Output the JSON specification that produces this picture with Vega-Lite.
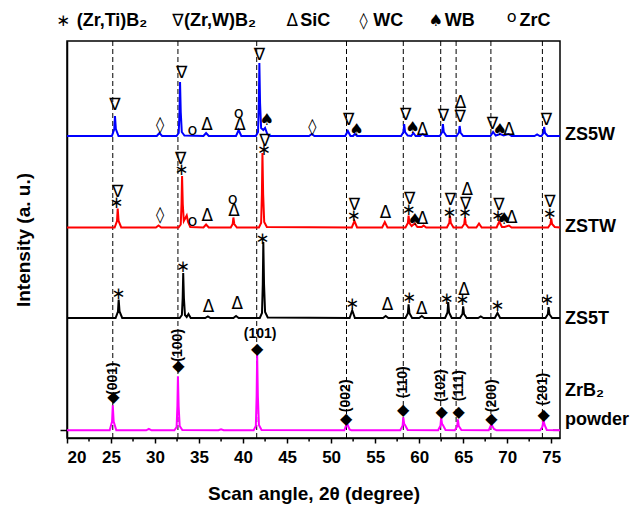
{
"$schema":"https://vega.github.io/schema/vega-lite/v6.json",
"autosize":{"type":"none"},
"padding":{"left":67,"top":41,"right":72,"bottom":70},
"width":493,"height":397,
"config":{"view":{"stroke":"black","strokeWidth":1.5},
"axis":{"domainColor":"black","domainWidth":1.5,"tickColor":"black","tickWidth":1.5,"grid":false,"labelFont":"Liberation Sans","labelFontWeight":"bold","labelFontSize":17,"labelColor":"black","titleFont":"Liberation Sans","titleFontWeight":"bold","titleFontSize":19,"titleColor":"black"},
"text":{"font":"Liberation Sans","color":"black"}},
"datasets":{
"lines":[
{"s":"ZS5W","x":20,"y":302},{"s":"ZS5W","x":25.1,"y":302},{"s":"ZS5W","x":25.37,"y":309},{"s":"ZS5W","x":25.45,"y":322},{"s":"ZS5W","x":25.55,"y":309},{"s":"ZS5W","x":25.85,"y":302},
{"s":"ZS5W","x":30.2,"y":302},{"s":"ZS5W","x":30.5,"y":305},{"s":"ZS5W","x":30.8,"y":302},
{"s":"ZS5W","x":32.44,"y":302},{"s":"ZS5W","x":32.69,"y":305},{"s":"ZS5W","x":32.78,"y":326},{"s":"ZS5W","x":32.84,"y":356},{"s":"ZS5W","x":32.92,"y":326},{"s":"ZS5W","x":33.04,"y":306},{"s":"ZS5W","x":33.34,"y":302.5},
{"s":"ZS5W","x":35.5,"y":302},{"s":"ZS5W","x":35.8,"y":305},{"s":"ZS5W","x":36.1,"y":302},
{"s":"ZS5W","x":39.2,"y":302},{"s":"ZS5W","x":39.5,"y":308},{"s":"ZS5W","x":39.8,"y":302},
{"s":"ZS5W","x":41.45,"y":302},{"s":"ZS5W","x":41.7,"y":306},{"s":"ZS5W","x":41.79,"y":335},{"s":"ZS5W","x":41.85,"y":375},{"s":"ZS5W","x":41.93,"y":335},{"s":"ZS5W","x":42.05,"y":310},{"s":"ZS5W","x":42.3,"y":308},{"s":"ZS5W","x":42.5,"y":310},{"s":"ZS5W","x":42.75,"y":304},{"s":"ZS5W","x":43.1,"y":302},
{"s":"ZS5W","x":47.5,"y":302},{"s":"ZS5W","x":47.8,"y":304},{"s":"ZS5W","x":48.1,"y":302},
{"s":"ZS5W","x":51.6,"y":302},{"s":"ZS5W","x":51.9,"y":307},{"s":"ZS5W","x":52.2,"y":302},{"s":"ZS5W","x":52.5,"y":302},{"s":"ZS5W","x":52.7,"y":304},{"s":"ZS5W","x":52.95,"y":302},
{"s":"ZS5W","x":57.95,"y":302},{"s":"ZS5W","x":58.22,"y":306},{"s":"ZS5W","x":58.3,"y":314},{"s":"ZS5W","x":58.4,"y":306},{"s":"ZS5W","x":58.7,"y":302.5},{"s":"ZS5W","x":59.1,"y":302},{"s":"ZS5W","x":59.35,"y":305},{"s":"ZS5W","x":59.6,"y":302},{"s":"ZS5W","x":60.1,"y":302},{"s":"ZS5W","x":60.4,"y":304},{"s":"ZS5W","x":60.7,"y":302},
{"s":"ZS5W","x":62.35,"y":302},{"s":"ZS5W","x":62.62,"y":306},{"s":"ZS5W","x":62.7,"y":314},{"s":"ZS5W","x":62.8,"y":306},{"s":"ZS5W","x":63.1,"y":302},
{"s":"ZS5W","x":64.25,"y":302},{"s":"ZS5W","x":64.52,"y":305.5},{"s":"ZS5W","x":64.6,"y":312},{"s":"ZS5W","x":64.7,"y":305.5},{"s":"ZS5W","x":65.0,"y":302},
{"s":"ZS5W","x":68.1,"y":302},{"s":"ZS5W","x":68.4,"y":306},{"s":"ZS5W","x":68.7,"y":302.5},{"s":"ZS5W","x":69.2,"y":304},{"s":"ZS5W","x":69.6,"y":302.5},{"s":"ZS5W","x":70.15,"y":304},{"s":"ZS5W","x":70.5,"y":302},
{"s":"ZS5W","x":73.1,"y":302},{"s":"ZS5W","x":73.4,"y":303.5},{"s":"ZS5W","x":73.7,"y":302},
{"s":"ZS5W","x":73.9,"y":302},{"s":"ZS5W","x":74.12,"y":305},{"s":"ZS5W","x":74.2,"y":311},{"s":"ZS5W","x":74.3,"y":305},{"s":"ZS5W","x":74.6,"y":302},{"s":"ZS5W","x":76,"y":302},

{"s":"ZSTW","x":20,"y":210.5},{"s":"ZSTW","x":25.41,"y":210.5},{"s":"ZSTW","x":25.68,"y":217},{"s":"ZSTW","x":25.76,"y":229.5},{"s":"ZSTW","x":25.86,"y":217},{"s":"ZSTW","x":26.16,"y":210.5},
{"s":"ZSTW","x":30.1,"y":210.5},{"s":"ZSTW","x":30.4,"y":212.5},{"s":"ZSTW","x":30.7,"y":210.5},
{"s":"ZSTW","x":32.67,"y":210.5},{"s":"ZSTW","x":32.92,"y":213.5},{"s":"ZSTW","x":33.01,"y":234},{"s":"ZSTW","x":33.07,"y":262},{"s":"ZSTW","x":33.15,"y":234},{"s":"ZSTW","x":33.27,"y":217},{"s":"ZSTW","x":33.45,"y":220},{"s":"ZSTW","x":33.6,"y":222.5},{"s":"ZSTW","x":33.75,"y":216},{"s":"ZSTW","x":34.0,"y":211},
{"s":"ZSTW","x":35.5,"y":210.5},{"s":"ZSTW","x":35.8,"y":213.5},{"s":"ZSTW","x":36.1,"y":210.5},
{"s":"ZSTW","x":38.6,"y":210.5},{"s":"ZSTW","x":38.82,"y":214},{"s":"ZSTW","x":38.9,"y":220.5},{"s":"ZSTW","x":39.0,"y":214},{"s":"ZSTW","x":39.3,"y":210.5},
{"s":"ZSTW","x":41.8,"y":210.5},{"s":"ZSTW","x":42.05,"y":215},{"s":"ZSTW","x":42.14,"y":244},{"s":"ZSTW","x":42.2,"y":285},{"s":"ZSTW","x":42.28,"y":244},{"s":"ZSTW","x":42.4,"y":216},{"s":"ZSTW","x":42.7,"y":211},
{"s":"ZSTW","x":52.35,"y":210.5},{"s":"ZSTW","x":52.65,"y":217},{"s":"ZSTW","x":52.95,"y":210.5},
{"s":"ZSTW","x":55.8,"y":210.5},{"s":"ZSTW","x":56.1,"y":216},{"s":"ZSTW","x":56.4,"y":210.5},
{"s":"ZSTW","x":58.45,"y":210.5},{"s":"ZSTW","x":58.72,"y":215},{"s":"ZSTW","x":58.8,"y":222.5},{"s":"ZSTW","x":58.9,"y":215},{"s":"ZSTW","x":59.15,"y":212},{"s":"ZSTW","x":59.5,"y":214.5},{"s":"ZSTW","x":59.8,"y":211},{"s":"ZSTW","x":60.3,"y":211},{"s":"ZSTW","x":60.5,"y":212.5},{"s":"ZSTW","x":60.8,"y":210.5},
{"s":"ZSTW","x":63.15,"y":210.5},{"s":"ZSTW","x":63.42,"y":215},{"s":"ZSTW","x":63.5,"y":222.5},{"s":"ZSTW","x":63.6,"y":215},{"s":"ZSTW","x":63.9,"y":210.5},
{"s":"ZSTW","x":64.85,"y":210.5},{"s":"ZSTW","x":65.12,"y":214},{"s":"ZSTW","x":65.2,"y":220.5},{"s":"ZSTW","x":65.3,"y":214},{"s":"ZSTW","x":65.6,"y":210.5},
{"s":"ZSTW","x":66.5,"y":210.5},{"s":"ZSTW","x":66.8,"y":214.5},{"s":"ZSTW","x":67.1,"y":210.5},
{"s":"ZSTW","x":68.8,"y":210.5},{"s":"ZSTW","x":69.1,"y":216.5},{"s":"ZSTW","x":69.4,"y":211},{"s":"ZSTW","x":69.7,"y":211},{"s":"ZSTW","x":70.2,"y":212.5},{"s":"ZSTW","x":70.5,"y":210.5},
{"s":"ZSTW","x":74.65,"y":210.5},{"s":"ZSTW","x":74.92,"y":214},{"s":"ZSTW","x":75.0,"y":219.5},{"s":"ZSTW","x":75.1,"y":214},{"s":"ZSTW","x":75.4,"y":211},{"s":"ZSTW","x":76,"y":210.5},

{"s":"ZS5T","x":20,"y":120},{"s":"ZS5T","x":25.52,"y":120},{"s":"ZS5T","x":25.79,"y":126.5},{"s":"ZS5T","x":25.87,"y":138.5},{"s":"ZS5T","x":25.97,"y":126.5},{"s":"ZS5T","x":26.27,"y":120},
{"s":"ZS5T","x":32.8,"y":120},{"s":"ZS5T","x":33.05,"y":123},{"s":"ZS5T","x":33.14,"y":140},{"s":"ZS5T","x":33.2,"y":165},{"s":"ZS5T","x":33.28,"y":140},{"s":"ZS5T","x":33.4,"y":123},{"s":"ZS5T","x":33.6,"y":121},{"s":"ZS5T","x":33.8,"y":124},{"s":"ZS5T","x":34.05,"y":120},
{"s":"ZS5T","x":35.7,"y":120},{"s":"ZS5T","x":36.0,"y":121.5},{"s":"ZS5T","x":36.3,"y":120},
{"s":"ZS5T","x":38.9,"y":120},{"s":"ZS5T","x":39.2,"y":122},{"s":"ZS5T","x":39.5,"y":120},
{"s":"ZS5T","x":41.9,"y":120},{"s":"ZS5T","x":42.15,"y":125},{"s":"ZS5T","x":42.24,"y":154},{"s":"ZS5T","x":42.3,"y":196},{"s":"ZS5T","x":42.38,"y":154},{"s":"ZS5T","x":42.5,"y":126},{"s":"ZS5T","x":42.8,"y":120.5},
{"s":"ZS5T","x":52.1,"y":120},{"s":"ZS5T","x":52.4,"y":127.7},{"s":"ZS5T","x":52.7,"y":120},
{"s":"ZS5T","x":55.9,"y":120},{"s":"ZS5T","x":56.2,"y":122},{"s":"ZS5T","x":56.5,"y":120},
{"s":"ZS5T","x":58.45,"y":120},{"s":"ZS5T","x":58.72,"y":124.8},{"s":"ZS5T","x":58.8,"y":133.7},{"s":"ZS5T","x":58.9,"y":124.8},{"s":"ZS5T","x":59.2,"y":120},
{"s":"ZS5T","x":60.0,"y":120},{"s":"ZS5T","x":60.3,"y":122},{"s":"ZS5T","x":60.6,"y":120},
{"s":"ZS5T","x":62.95,"y":120},{"s":"ZS5T","x":63.22,"y":125.6},{"s":"ZS5T","x":63.3,"y":136},{"s":"ZS5T","x":63.4,"y":125.6},{"s":"ZS5T","x":63.7,"y":120},
{"s":"ZS5T","x":64.65,"y":120},{"s":"ZS5T","x":64.92,"y":124},{"s":"ZS5T","x":65.0,"y":131.7},{"s":"ZS5T","x":65.1,"y":124},{"s":"ZS5T","x":65.4,"y":120},
{"s":"ZS5T","x":66.7,"y":120},{"s":"ZS5T","x":67.0,"y":121.5},{"s":"ZS5T","x":67.3,"y":120},
{"s":"ZS5T","x":68.6,"y":120},{"s":"ZS5T","x":68.9,"y":125},{"s":"ZS5T","x":69.2,"y":120},
{"s":"ZS5T","x":74.35,"y":120},{"s":"ZS5T","x":74.62,"y":123.8},{"s":"ZS5T","x":74.7,"y":131},{"s":"ZS5T","x":74.8,"y":123.8},{"s":"ZS5T","x":75.1,"y":120},{"s":"ZS5T","x":76,"y":120},

{"s":"ZrB2","x":20,"y":7.7},{"s":"ZrB2","x":24.85,"y":7.7},{"s":"ZrB2","x":25.12,"y":16.5},{"s":"ZrB2","x":25.2,"y":32.7},{"s":"ZrB2","x":25.3,"y":16.5},{"s":"ZrB2","x":25.6,"y":7.7},
{"s":"ZrB2","x":29.0,"y":7.7},{"s":"ZrB2","x":29.3,"y":9.2},{"s":"ZrB2","x":29.6,"y":7.7},
{"s":"ZrB2","x":32.2,"y":7.7},{"s":"ZrB2","x":32.45,"y":11},{"s":"ZrB2","x":32.54,"y":32},{"s":"ZrB2","x":32.6,"y":61.7},{"s":"ZrB2","x":32.68,"y":32},{"s":"ZrB2","x":32.8,"y":12},{"s":"ZrB2","x":33.1,"y":8},
{"s":"ZrB2","x":37.2,"y":7.7},{"s":"ZrB2","x":37.5,"y":8.7},{"s":"ZrB2","x":37.8,"y":7.7},
{"s":"ZrB2","x":41.2,"y":7.7},{"s":"ZrB2","x":41.45,"y":12},{"s":"ZrB2","x":41.54,"y":42},{"s":"ZrB2","x":41.6,"y":83.7},{"s":"ZrB2","x":41.68,"y":42},{"s":"ZrB2","x":41.8,"y":13},{"s":"ZrB2","x":42.1,"y":8},
{"s":"ZrB2","x":51.5,"y":7.7},{"s":"ZrB2","x":51.8,"y":14.7},{"s":"ZrB2","x":52.1,"y":8.5},{"s":"ZrB2","x":52.3,"y":7.7},
{"s":"ZrB2","x":57.85,"y":7.7},{"s":"ZrB2","x":58.12,"y":12.2},{"s":"ZrB2","x":58.2,"y":20.7},{"s":"ZrB2","x":58.3,"y":14},{"s":"ZrB2","x":58.4,"y":13},{"s":"ZrB2","x":58.7,"y":8},
{"s":"ZrB2","x":62.15,"y":7.7},{"s":"ZrB2","x":62.42,"y":12.2},{"s":"ZrB2","x":62.5,"y":20.7},{"s":"ZrB2","x":62.6,"y":14},{"s":"ZrB2","x":62.7,"y":13},{"s":"ZrB2","x":63.0,"y":8},
{"s":"ZrB2","x":64.05,"y":7.7},{"s":"ZrB2","x":64.32,"y":11.5},{"s":"ZrB2","x":64.4,"y":18.7},{"s":"ZrB2","x":64.5,"y":12},{"s":"ZrB2","x":64.8,"y":8},
{"s":"ZrB2","x":67.9,"y":7.7},{"s":"ZrB2","x":68.2,"y":13.7},{"s":"ZrB2","x":68.5,"y":9},{"s":"ZrB2","x":68.8,"y":7.7},
{"s":"ZrB2","x":73.75,"y":7.7},{"s":"ZrB2","x":74.02,"y":11.5},{"s":"ZrB2","x":74.1,"y":18.7},{"s":"ZrB2","x":74.25,"y":13},{"s":"ZrB2","x":74.5,"y":8},{"s":"ZrB2","x":76,"y":7.7}
],
"ann":[
{"x":25.45,"y":332.7,"t":"∇"},{"x":30.57,"y":312.7,"t":"◊"},{"x":33.03,"y":365,"t":"∇"},{"x":34.24,"y":307.7,"t":"o"},{"x":35.9,"y":312.7,"t":"Δ"},{"x":39.5,"y":325.4,"t":"o"},{"x":39.66,"y":313.4,"t":"Δ"},{"x":41.85,"y":383.4,"t":"∇"},{"x":42.7,"y":318.4,"t":"♠"},{"x":47.87,"y":311,"t":"◊"},{"x":52.0,"y":318.4,"t":"∇"},{"x":52.9,"y":307.7,"t":"♠"},{"x":58.48,"y":323.4,"t":"∇"},{"x":59.24,"y":310,"t":"♠"},{"x":60.37,"y":308.4,"t":"Δ"},{"x":62.75,"y":321.7,"t":"∇"},{"x":64.7,"y":335,"t":"Δ"},{"x":64.65,"y":321,"t":"∇"},{"x":68.33,"y":313.7,"t":"∇"},{"x":69.17,"y":307.7,"t":"♠"},{"x":70.2,"y":308.4,"t":"Δ"},{"x":74.45,"y":318.4,"t":"∇"},
{"x":25.76,"y":246,"t":"∇"},{"x":25.65,"y":235,"t":"∗"},{"x":30.57,"y":222.7,"t":"◊"},{"x":32.92,"y":279.4,"t":"∇"},{"x":33.03,"y":267.7,"t":"∗"},{"x":34.24,"y":216.7,"t":"o"},{"x":35.94,"y":221.7,"t":"Δ"},{"x":38.83,"y":239.4,"t":"o"},{"x":38.98,"y":226.7,"t":"Δ"},{"x":42.47,"y":296.7,"t":"∇"},{"x":42.4,"y":287.7,"t":"∗"},
{"x":52.64,"y":233.3,"t":"∇"},{"x":52.6,"y":221.7,"t":"∗"},{"x":56.18,"y":225,"t":"Δ"},{"x":58.93,"y":239,"t":"∇"},{"x":58.86,"y":228.3,"t":"∗"},{"x":59.5,"y":218.3,"t":"♠"},{"x":60.37,"y":219,"t":"Δ"},{"x":63.55,"y":237.7,"t":"∇"},{"x":63.47,"y":225,"t":"∗"},{"x":65.47,"y":247.7,"t":"Δ"},{"x":65.28,"y":234.3,"t":"∇"},{"x":65.24,"y":225,"t":"∗"},{"x":69.06,"y":233.3,"t":"∇"},{"x":68.98,"y":221.7,"t":"∗"},{"x":69.66,"y":219,"t":"♠"},{"x":70.52,"y":220,"t":"Δ"},{"x":74.87,"y":235.7,"t":"∇"},{"x":74.87,"y":224.3,"t":"∗"},
{"x":25.87,"y":144.4,"t":"∗"},{"x":33.2,"y":171,"t":"∗"},{"x":36.06,"y":131,"t":"Δ"},{"x":39.35,"y":133.7,"t":"Δ"},{"x":42.24,"y":199.4,"t":"∗"},{"x":52.42,"y":133.7,"t":"∗"},{"x":56.4,"y":132.7,"t":"Δ"},{"x":58.9,"y":140,"t":"∗"},{"x":60.3,"y":129.4,"t":"Δ"},{"x":63.15,"y":139.4,"t":"∗"},{"x":65.1,"y":147.7,"t":"Δ"},{"x":64.96,"y":137.7,"t":"∗"},{"x":68.94,"y":132,"t":"∗"},{"x":74.58,"y":138.4,"t":"∗"},
{"x":25.26,"y":41,"t":"◆"},{"x":32.65,"y":71.7,"t":"◆"},{"x":41.6,"y":89.4,"t":"◆"},{"x":51.7,"y":19.4,"t":"◆"},{"x":58.18,"y":27.7,"t":"◆"},{"x":62.57,"y":26,"t":"◆"},{"x":64.5,"y":26,"t":"◆"},{"x":68.2,"y":19.4,"t":"◆"},{"x":74.13,"y":22.7,"t":"◆"},
{"x":19.6,"y":417,"t":"∗"},{"x":32.6,"y":417,"t":"∇"},{"x":45.6,"y":417,"t":"Δ"},{"x":53.7,"y":417,"t":"◊"},{"x":61.9,"y":417,"t":"♠"},{"x":70.5,"y":421,"t":"o"}
],
"miller":[
{"x":25.26,"y":59.4,"t":"(001)","r":"v"},{"x":32.65,"y":92.7,"t":"(100)","r":"v"},{"x":41.93,"y":103.7,"t":"(101)","r":"h"},{"x":51.7,"y":42.2,"t":"(002)","r":"v"},{"x":58.18,"y":55.7,"t":"(110)","r":"v"},{"x":62.5,"y":52.3,"t":"(102)","r":"v"},{"x":64.5,"y":52.3,"t":"(111)","r":"v"},{"x":68.3,"y":42.2,"t":"(200)","r":"v"},{"x":74.1,"y":48.9,"t":"(201)","r":"v"}
],
"names":[
{"x":76,"y":302.7,"t":"ZS5W"},{"x":76,"y":210.7,"t":"ZSTW"},{"x":76,"y":118.7,"t":"ZS5T"},{"x":76,"y":46.7,"t":"ZrB₂"},{"x":76,"y":17.7,"t":"powder"}
],
"legend":[
{"x":21.1,"y":417,"t":"(Zr,Ti)B₂"},{"x":33.3,"y":417,"t":"(Zr,W)B₂"},{"x":46.5,"y":417,"t":"SiC"},{"x":54.8,"y":417,"t":"WC"},{"x":62.9,"y":417,"t":"WB"},{"x":71.4,"y":417,"t":"ZrC"}
],
"vlines":[{"x":25.2},{"x":32.6},{"x":41.55},{"x":51.75},{"x":58.2},{"x":62.45},{"x":64.2},{"x":68.15},{"x":74.0}],
"minor":[{"x":22.5},{"x":27.5},{"x":32.5},{"x":37.5},{"x":42.5},{"x":47.5},{"x":52.5},{"x":57.5},{"x":62.5},{"x":67.5},{"x":72.5}]
},
"layer":[
{"data":{"name":"vlines"},"mark":{"type":"rule","strokeDash":[5,3],"strokeWidth":1,"color":"black"},
 "encoding":{"x":{"field":"x","type":"quantitative","scale":{"domain":[20,76],"nice":false,"zero":false},
   "axis":{"values":[20,25,30,35,40,45,50,55,60,65,70,75],"title":"Scan angle, 2θ (degree)","tickSize":5,"labelPadding":6,"titlePadding":19}}}},
{"data":{"name":"minor"},"mark":{"type":"rule","strokeWidth":1.5,"color":"black"},
 "encoding":{"x":{"field":"x","type":"quantitative"},"y":{"datum":0},"y2":{"datum":-3.5}}},
{"data":{"values":[{}]},"mark":{"type":"rule","strokeWidth":1.5,"color":"black"},
 "encoding":{"x":{"datum":75.2},"x2":{"datum":76},"y":{"datum":7.7}}},
{"data":{"name":"lines"},"mark":{"type":"line","strokeWidth":2},
 "encoding":{"x":{"field":"x","type":"quantitative"},
  "y":{"field":"y","type":"quantitative","scale":{"domain":[0,397],"nice":false,"zero":false},
   "axis":{"values":[7.7],"labels":false,"tickSize":7,"title":"Intensity (a. u.)","titlePadding":26}},
  "color":{"field":"s","type":"nominal","scale":{"domain":["ZS5W","ZSTW","ZS5T","ZrB2"],"range":["#0000ff","#ff0000","#000000","#ff00ff"]},"legend":null},
  "detail":{"field":"s"}}},
{"data":{"name":"ann"},"mark":{"type":"text","align":"center","baseline":"middle","font":"DejaVu Sans"},
 "encoding":{"x":{"field":"x","type":"quantitative"},"y":{"field":"y","type":"quantitative"},"text":{"field":"t"},
  "size":{"field":"t","type":"nominal","scale":{"domain":["∇","Δ","∗","◊","♠","o","◆"],"range":[17,16,14,16,15,9,14]},"legend":null}}},
{"data":{"name":"miller"},"transform":[{"filter":"datum.r == 'v'"}],"mark":{"type":"text","angle":270,"align":"center","baseline":"middle","fontSize":14,"fontWeight":"bold"},
 "encoding":{"x":{"field":"x","type":"quantitative"},"y":{"field":"y","type":"quantitative"},"text":{"field":"t"}}},
{"data":{"name":"miller"},"transform":[{"filter":"datum.r == 'h'"}],"mark":{"type":"text","align":"center","baseline":"middle","fontSize":14,"fontWeight":"bold"},
 "encoding":{"x":{"field":"x","type":"quantitative"},"y":{"field":"y","type":"quantitative"},"text":{"field":"t"}}},
{"data":{"name":"names"},"mark":{"type":"text","align":"left","baseline":"middle","dx":5,"fontSize":18,"fontWeight":"bold"},
 "encoding":{"x":{"field":"x","type":"quantitative"},"y":{"field":"y","type":"quantitative"},"text":{"field":"t"}}},
{"data":{"name":"legend"},"mark":{"type":"text","align":"left","baseline":"middle","fontSize":18,"fontWeight":"bold"},
 "encoding":{"x":{"field":"x","type":"quantitative"},"y":{"field":"y","type":"quantitative"},"text":{"field":"t"}}}
]
}
